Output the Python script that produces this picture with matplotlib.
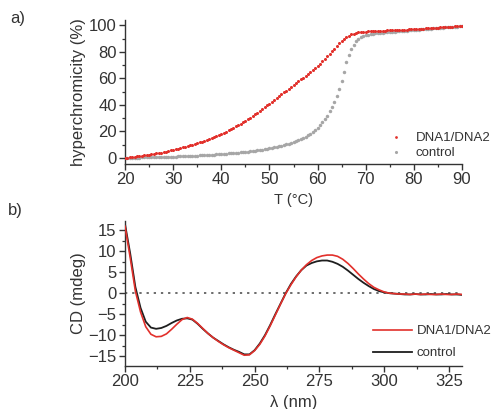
import numpy as np
import matplotlib
matplotlib.use("Agg")
import matplotlib.pyplot as plt
from matplotlib.ticker import MultipleLocator

plt.rcParams['font.family'] = ['Liberation Sans', 'DejaVu Sans']

# ---------------- Panel a: melting curves ----------------
temp_start, temp_stop, temp_step = 20.0, 90.0, 0.5
temperature = np.arange(temp_start, temp_stop + temp_step / 2, temp_step)

hyper_dna1_dna2 = [
    0.0, 0.25, 0.5, 0.75, 1.0, 1.25, 1.5, 1.75, 2.0, 2.3,
    2.6, 2.85, 3.1, 3.45, 3.8, 4.15, 4.5, 4.9, 5.3, 5.7,
    6.1, 6.55, 7.0, 7.5, 8.0, 8.5, 9.0, 9.55, 10.1, 10.65,
    11.2, 11.8, 12.4, 13.05, 13.7, 14.35, 15.0, 15.7, 16.4, 17.15,
    17.9, 18.85, 19.8, 20.8, 21.8, 22.85, 23.9, 24.95, 26.0, 27.1,
    28.2, 29.35, 30.5, 31.75, 33.0, 34.3, 35.6, 36.95, 38.3, 39.65,
    41.0, 42.4, 43.8, 45.2, 46.6, 48.0, 49.4, 50.8, 52.2, 53.6,
    55.0, 56.4, 57.8, 59.2, 60.6, 62.0, 63.4, 64.85, 66.3, 67.75,
    69.2, 71.1, 73.0, 74.75, 76.5, 78.5, 80.5, 82.5, 84.5, 86.4,
    88.3, 89.9, 91.3, 92.3, 93.2, 93.8, 94.3, 94.6, 94.9, 95.1,
    95.3, 95.4, 95.5, 95.6, 95.7, 95.8, 95.9, 95.95, 96.0, 96.1,
    96.2, 96.3, 96.4, 96.45, 96.5, 96.6, 96.7, 96.8, 96.9, 97.0,
    97.1, 97.2, 97.3, 97.4, 97.5, 97.6, 97.7, 97.8, 97.9, 98.05,
    98.2, 98.35, 98.5, 98.65, 98.8, 98.95, 99.1, 99.25, 99.4, 99.5,
    99.6,
]

hyper_control = [
    0.0, 0.05, 0.1, 0.15, 0.2, 0.28, 0.35, 0.42, 0.5, 0.55,
    0.6, 0.65, 0.7, 0.75, 0.8, 0.85, 0.9, 0.95, 1.0, 1.05,
    1.1, 1.15, 1.2, 1.25, 1.3, 1.4, 1.5, 1.6, 1.7, 1.8,
    1.9, 2.0, 2.1, 2.2, 2.3, 2.4, 2.5, 2.6, 2.7, 2.85,
    3.0, 3.15, 3.3, 3.45, 3.6, 3.75, 3.9, 4.1, 4.3, 4.5,
    4.7, 4.9, 5.1, 5.35, 5.6, 5.85, 6.1, 6.4, 6.7, 7.0,
    7.3, 7.65, 8.0, 8.4, 8.8, 9.25, 9.7, 10.2, 10.8, 11.4,
    12.0, 12.7, 13.4, 14.2, 15.1, 16.1, 17.2, 18.4, 19.8, 21.3,
    23.0, 24.9, 27.0, 29.4, 32.0, 35.1, 38.5, 42.5, 47.0, 52.3,
    58.0, 65.0, 72.0, 77.5, 82.0, 85.3, 88.0, 89.7, 91.0, 91.8,
    92.5, 92.9, 93.3, 93.6, 93.9, 94.1, 94.3, 94.5, 94.7, 94.85,
    95.0, 95.15, 95.3, 95.45, 95.6, 95.75, 95.9, 96.05, 96.2, 96.35,
    96.5, 96.65, 96.8, 96.9, 97.0, 97.15, 97.3, 97.45, 97.6, 97.75,
    97.9, 98.05, 98.2, 98.35, 98.5, 98.65, 98.8, 98.95, 99.1, 99.25,
    99.4,
]

# ---------------- Panel b: CD spectra ----------------
wavelength = np.arange(200, 331, 2)

cd_dna1_dna2 = [
    16.0, 8.5, 0.5, -4.5, -8.0, -9.8, -10.4, -10.3, -9.7, -8.6,
    -7.4, -6.3, -5.8, -6.2, -7.2, -8.4, -9.6, -10.6, -11.5, -12.3,
    -13.0, -13.6, -14.2, -14.8, -14.7, -13.7, -12.2, -10.2, -7.8, -5.2,
    -2.6, -0.1, 2.0, 3.9, 5.5, 6.8, 7.8, 8.5, 8.9, 9.1,
    9.1, 8.8, 8.1, 7.1, 5.9, 4.6, 3.4, 2.3, 1.4, 0.8,
    0.3, 0.0, -0.1, -0.2, -0.2, -0.3, -0.2, -0.3, -0.2, -0.3,
    -0.3, -0.2, -0.3, -0.3, -0.2, -0.3,
]

cd_control = [
    16.5, 9.5, 1.5, -3.5, -6.8, -8.2, -8.5, -8.3, -7.8, -7.1,
    -6.5, -6.1, -6.0, -6.3, -7.3, -8.5, -9.6, -10.6, -11.4, -12.2,
    -12.9, -13.5, -14.0, -14.6, -14.6, -13.6, -12.0, -10.0, -7.6, -5.0,
    -2.5, 0.0, 2.2, 4.0, 5.5, 6.6, 7.2, 7.6, 7.8, 7.8,
    7.5, 7.0, 6.3, 5.4, 4.4, 3.4, 2.5, 1.7, 1.0, 0.5,
    0.2, 0.0, -0.1, -0.2, -0.3, -0.3, -0.2, -0.3, -0.3, -0.2,
    -0.3, -0.3, -0.2, -0.3, -0.3, -0.4,
]

series_labels = ["DNA1/DNA2", "control"]
panel_labels = ["a)", "b)"]

RED = "#e2302b"
GRAY = "#a6a6a6"
BLACK = "#1e1e1e"
TXT = "#333333"

W, H = 493, 409
fig = plt.figure(figsize=(W / 100, H / 100), dpi=100)

def fx(px):
    return px / W

def fy(py):
    return 1 - py / H

ax_a = fig.add_axes([fx(125), fy(164), fx(462) - fx(125), fy(20) - fy(164)])
ax_b = fig.add_axes([fx(125), fy(365.7), fx(462) - fx(125), fy(220.7) - fy(365.7)])

for ax in (ax_a, ax_b):
    for s in ("top", "right"):
        ax.spines[s].set_visible(False)
    for s in ("left", "bottom"):
        ax.spines[s].set_color(TXT)
        ax.spines[s].set_linewidth(1.0)
    ax.tick_params(which="major", direction="out", length=4, width=1.0,
                   color=TXT, labelcolor=TXT, labelsize=12, pad=2)
    ax.tick_params(which="minor", direction="out", length=2.2, width=0.9, color=TXT)
    ax.patch.set_alpha(0)

# Panel a
ax_a.plot(temperature, hyper_control, 'o', ms=2.5, mec='none', color=GRAY,
          label=series_labels[1], zorder=2)
ax_a.plot(temperature, hyper_dna1_dna2, 'o', ms=2.2, mec='none', color=RED,
          label=series_labels[0], zorder=3)
ax_a.set_xlim(20, 90)
ax_a.set_ylim(-4.5, 104)
ax_a.xaxis.set_major_locator(MultipleLocator(10))
ax_a.xaxis.set_minor_locator(MultipleLocator(5))
ax_a.yaxis.set_major_locator(MultipleLocator(20))
ax_a.yaxis.set_minor_locator(MultipleLocator(10))
ax_a.set_ylabel("hyperchromicity (%)", fontsize=12, color=TXT, labelpad=2)
ax_a.set_xlabel("T (°C)", fontsize=10.5, color=TXT, labelpad=4)
h, l = ax_a.get_legend_handles_labels()
leg_a = ax_a.legend(h[::-1], l[::-1], loc="upper left",
                    bbox_to_anchor=(fx(392), fy(132)), bbox_transform=fig.transFigure,
                    frameon=False, fontsize=9.5, handlelength=0.6, handletextpad=1.2,
                    borderpad=0, borderaxespad=0, labelspacing=0.22, markerscale=0.9)
for t in leg_a.get_texts():
    t.set_color(TXT)

# Panel b
ax_b.axhline(0, color="#444444", lw=1.1, ls=(0, (1.5, 3.2)), zorder=1)
ax_b.plot(wavelength, cd_control, color=BLACK, lw=1.3, label=series_labels[1], zorder=2)
ax_b.plot(wavelength, cd_dna1_dna2, color=RED, lw=1.2, label=series_labels[0], zorder=3)
ax_b.set_xlim(200, 330)
ax_b.set_ylim(-17.3, 17.3)
ax_b.xaxis.set_major_locator(MultipleLocator(25))
ax_b.xaxis.set_minor_locator(MultipleLocator(12.5))
ax_b.yaxis.set_major_locator(MultipleLocator(5))
ax_b.yaxis.set_minor_locator(MultipleLocator(2.5))
ax_b.set_ylabel("CD (mdeg)", fontsize=12, color=TXT, labelpad=2)
ax_b.set_xlabel("λ (nm)", fontsize=12, color=TXT, labelpad=4.5)
h, l = ax_b.get_legend_handles_labels()
leg_b = ax_b.legend(h[::-1], l[::-1], loc="upper left",
                    bbox_to_anchor=(fx(373), fy(325)), bbox_transform=fig.transFigure,
                    frameon=False, fontsize=9.5, handlelength=2.95, handletextpad=0.35,
                    borderpad=0, borderaxespad=0, labelspacing=0.75)
for t in leg_b.get_texts():
    t.set_color(TXT)

fig.text(fx(10), fy(18), panel_labels[0], fontsize=12, color=TXT, va="center", ha="left")
fig.text(fx(8), fy(210), panel_labels[1], fontsize=12, color=TXT, va="center", ha="left")

fig.savefig("out.png", dpi=100)
